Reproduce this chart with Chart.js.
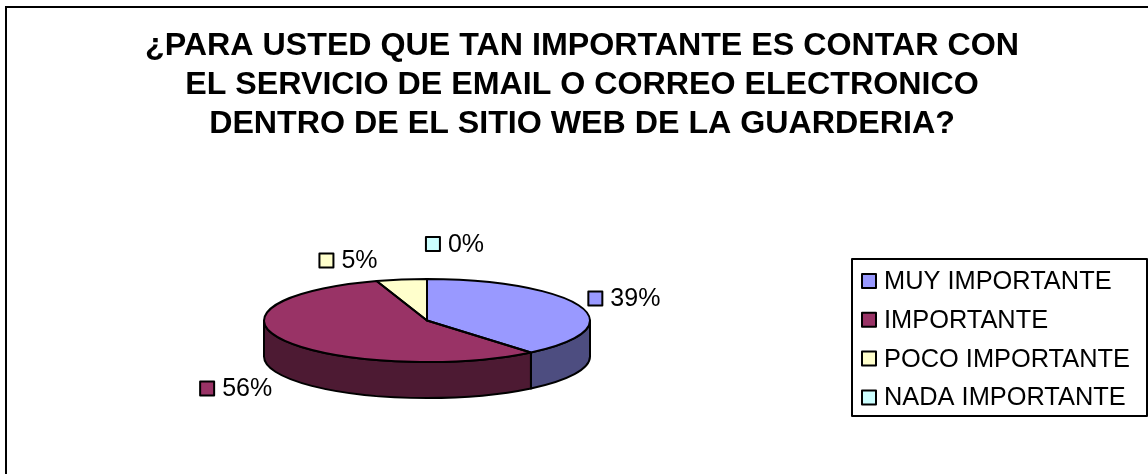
<!DOCTYPE html>
<html>
<head>
<meta charset="utf-8">
<style>
  html, body { margin: 0; padding: 0; background: #fff; }
  #wrap { width: 1148px; height: 474px; }
</style>
<script src="https://cdn.jsdelivr.net/npm/chart.js@4"></script>
</head>
<body>
<div id="wrap"><canvas id="pie" width="1148" height="474"></canvas></div>
<script>
const titleLines = [
  '¿PARA USTED QUE TAN IMPORTANTE ES CONTAR CON',
  'EL SERVICIO DE EMAIL O CORREO ELECTRONICO',
  'DENTRO DE EL SITIO WEB DE LA GUARDERIA?'
];
const categories = ['MUY IMPORTANTE', 'IMPORTANTE', 'POCO IMPORTANTE', 'NADA IMPORTANTE'];
const percents = [39, 56, 5, 0];
const sliceColors = ['#9999FF', '#993366', '#FFFFCC', '#CCFFFF'];
const wallColors = ['#4D4D80', '#4D1A33', '#80806A', '#668080'];

// where the flattened pie sits on the page
const pieX = 427, pieY = 320.5, pieRx = 163, pieRy = 41.5, pieDepth = 36;
// label centre relative to the slice's outer edge
const labelShift = [[44, -8], [-48, 48], [-53, -19], [28, -35]];
const FONT = '"Liberation Sans", Arial, sans-serif';

function swatch(ctx, x, y, size, color){
  ctx.fillStyle = color;
  ctx.strokeStyle = '#000';
  ctx.lineWidth = 2;
  ctx.fillRect(x, y, size, size);
  ctx.strokeRect(x, y, size, size);
}

// Chart.js only draws round pies, so squash the arcs and add the side wall by hand
const pie3d = {
  id: 'pie3d',
  beforeDraw(chart){
    const ctx = chart.ctx;
    ctx.save();
    ctx.strokeStyle = '#000';
    ctx.lineWidth = 2;
    ctx.beginPath();
    ctx.moveTo(6, chart.height);
    ctx.lineTo(6, 7);
    ctx.lineTo(chart.width, 7);
    ctx.stroke();
    ctx.restore();
  },
  beforeDatasetsDraw(chart){
    const ctx = chart.ctx;
    const arcs = chart.getDatasetMeta(0).data;
    ctx.save();
    ctx.strokeStyle = '#000';
    ctx.lineWidth = 2;
    ctx.lineJoin = 'round';
    arcs.forEach((arc, i) => {
      const from = Math.max(arc.startAngle, 0);
      const to = Math.min(arc.endAngle, Math.PI);
      if(to <= from) return;
      ctx.beginPath();
      ctx.ellipse(pieX, pieY, pieRx, pieRy, 0, from, to);
      ctx.ellipse(pieX, pieY + pieDepth, pieRx, pieRy, 0, to, from, true);
      ctx.closePath();
      ctx.fillStyle = wallColors[i];
      ctx.fill();
      ctx.stroke();
    });
    ctx.restore();

    const a = arcs[0];
    ctx.save();
    ctx.translate(pieX, pieY);
    ctx.scale(1, pieRy / pieRx);
    ctx.translate(-a.x, -a.y);
  },
  afterDatasetsDraw(chart){
    const ctx = chart.ctx;
    ctx.restore();

    const arcs = chart.getDatasetMeta(0).data;
    ctx.save();
    ctx.strokeStyle = '#000';
    ctx.lineWidth = 2;
    ctx.lineJoin = 'round';
    arcs.forEach(arc => {
      if(arc.endAngle - arc.startAngle <= 0) return;
      ctx.beginPath();
      ctx.moveTo(pieX, pieY);
      ctx.ellipse(pieX, pieY, pieRx, pieRy, 0, arc.startAngle, arc.endAngle);
      ctx.closePath();
      ctx.stroke();
    });

    // percentage labels
    ctx.font = '25px ' + FONT;
    ctx.textBaseline = 'middle';
    arcs.forEach((arc, i) => {
      const mid = (arc.startAngle + arc.endAngle) / 2;
      const text = percents[i] + '%';
      const w = 14 + 8 + ctx.measureText(text).width;
      const x = pieX + pieRx * Math.cos(mid) + labelShift[i][0] - w / 2;
      const y = pieY + pieRy * Math.sin(mid) + labelShift[i][1];
      swatch(ctx, x, y - 7, 14, sliceColors[i]);
      ctx.fillStyle = '#000';
      ctx.fillText(text, x + 22, y + 1);
    });

    // legend box
    ctx.strokeStyle = '#000';
    ctx.lineWidth = 2;
    ctx.strokeRect(852, 259, 295, 157);
    ctx.font = '25.4px ' + FONT;
    categories.forEach((name, i) => {
      const y = 281 + i * 38.8;
      swatch(ctx, 862, y - 7, 14, sliceColors[i]);
      ctx.fillStyle = '#000';
      ctx.fillText(name, 884, y + 1);
    });
    ctx.restore();
  }
};

new Chart(document.getElementById('pie'), {
  type: 'pie',
  data: {
    labels: categories,
    datasets: [{
      data: percents,
      backgroundColor: sliceColors,
      borderWidth: 0,
      radius: pieRx,
      clip: false
    }]
  },
  options: {
    responsive: false,
    animation: false,
    layout: { padding: { left: 16 } },
    plugins: {
      legend: { display: false },
      tooltip: { enabled: false },
      title: {
        display: true,
        text: titleLines,
        color: '#000',
        font: { family: FONT, size: 32.2, weight: 'bold', lineHeight: 1.22 },
        padding: { top: 26, bottom: 0 }
      }
    }
  },
  plugins: [pie3d]
});
</script>
</body>
</html>
